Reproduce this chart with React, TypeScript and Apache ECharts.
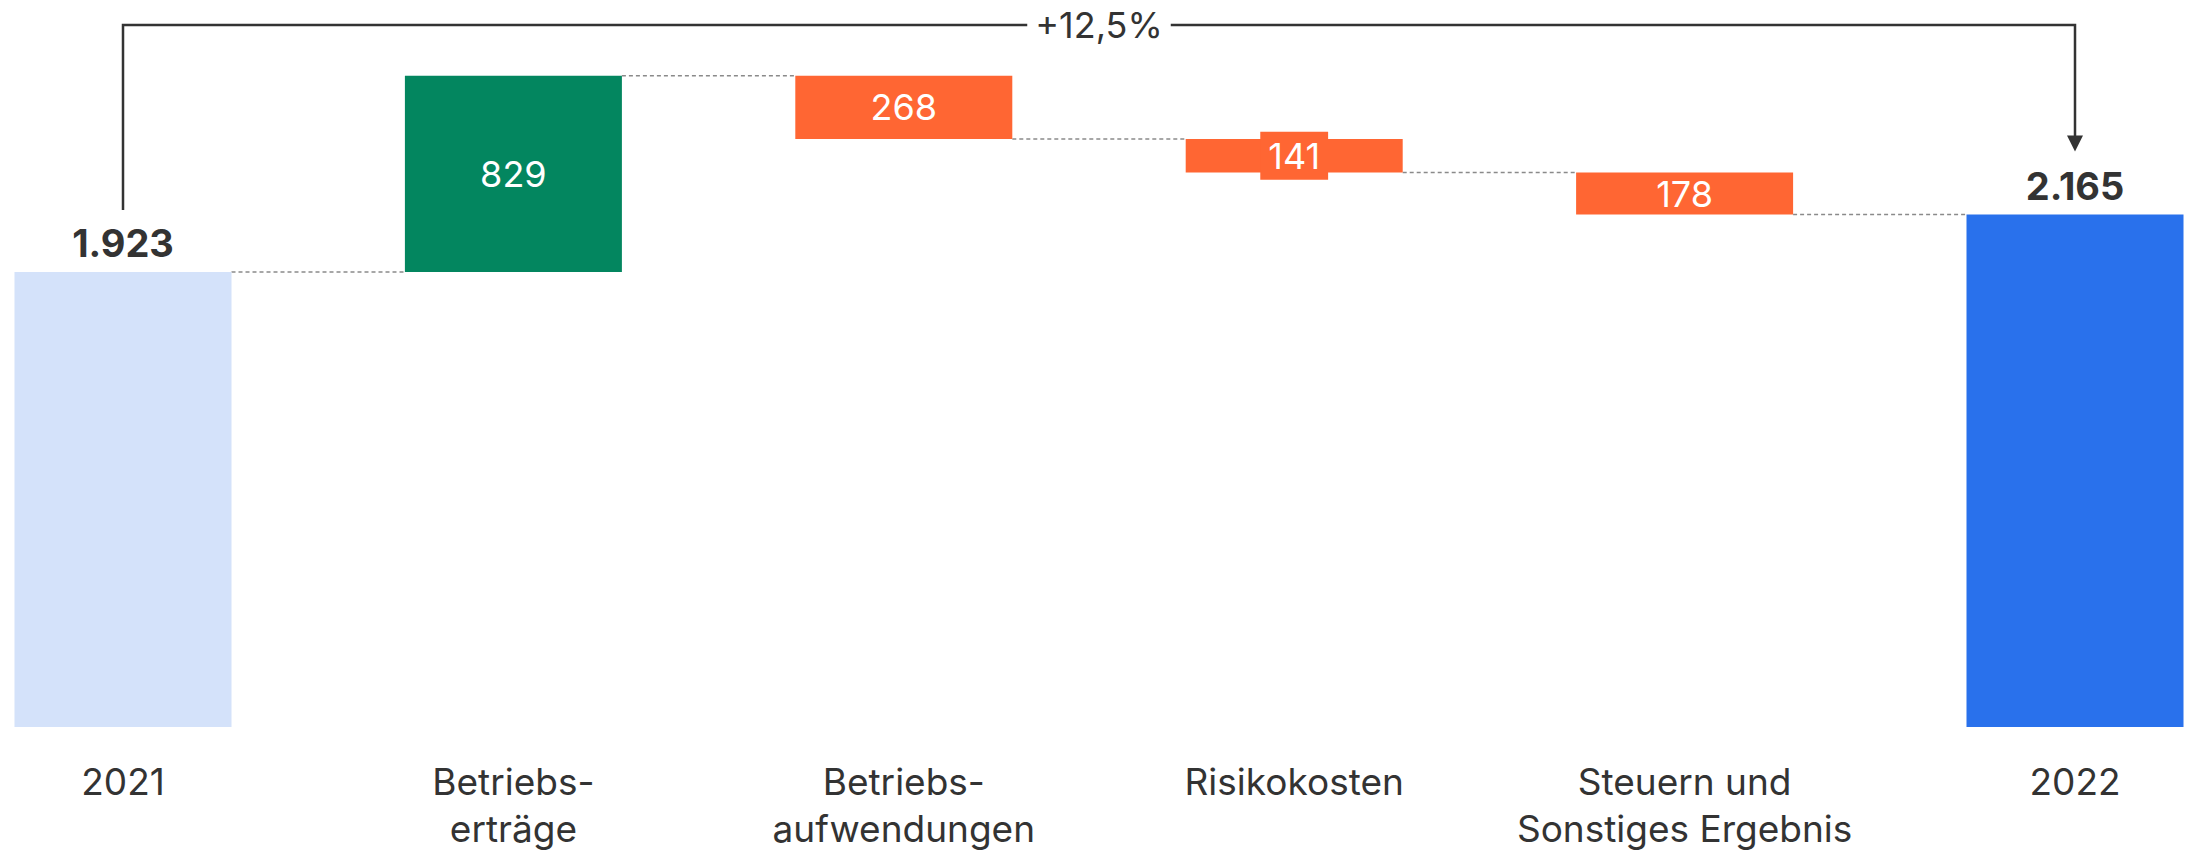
import React, { useEffect, useRef } from "react";
import * as echarts from "echarts";

const categories = [
  "2021",
  "Betriebs-\nerträge",
  "Betriebs-\naufwendungen",
  "Risikokosten",
  "Steuern und\nSonstiges Ergebnis",
  "2022",
];
const startTotal = 1923;
const deltas = [829, -268, -141, -178];
const endTotal = 2165;
const changeLabel = "+12,5%";

const colorStart = "#D4E2FA";
const colorUp = "#03865F";
const colorDown = "#FF6633";
const colorEnd = "#2971EC";
const textDark = "#333333";
const FONT = "Inter";

const fmt = (v: number) =>
  Math.abs(v)
    .toString()
    .replace(/\B(?=(\d{3})+(?!\d))/g, ".");

export default function App() {
  const ref = useRef<HTMLDivElement>(null);

  useEffect(() => {
    if (!ref.current) return;
    const chart = echarts.init(ref.current, undefined, { renderer: "svg" });

    const totalLabel = (v: number) => ({
      show: true,
      position: "top",
      distance: 10,
      color: textDark,
      fontWeight: "bold",
      fontSize: 38,
      fontFamily: FONT,
      formatter: fmt(v),
    });

    const base: number[] = [0];
    const vis: any[] = [];
    const connectors: number[][] = [];
    let running = startTotal;
    connectors.push([0, running]);
    vis.push({ value: startTotal, itemStyle: { color: colorStart }, label: totalLabel(startTotal) });
    deltas.forEach((d, i) => {
      const next = running + d;
      base.push(Math.min(running, next));
      const smallBox = Math.abs(d) < 150;
      vis.push({
        value: Math.abs(d),
        itemStyle: { color: d >= 0 ? colorUp : colorDown },
        label: {
          show: true,
          position: "inside",
          color: "#ffffff",
          fontSize: 36,
          fontFamily: FONT,
          formatter: fmt(d),
          backgroundColor: smallBox ? colorDown : "transparent",
          padding: smallBox ? [6, 8] : 0,
        },
      });
      running = next;
      connectors.push([i + 1, running]);
    });
    base.push(0);
    vis.push({ value: endTotal, itemStyle: { color: colorEnd }, label: totalLabel(endTotal) });

    const barWidth = 217;

    chart.setOption({
      animation: false,
      backgroundColor: "#ffffff",
      grid: { left: 123, right: 111, top: 17, bottom: 126, outerBoundsMode: "none", containLabel: false },
      xAxis: {
        type: "category",
        data: categories,
        boundaryGap: false,
        axisLine: { show: false },
        axisTick: { show: false },
        axisLabel: {
          color: textDark,
          fontSize: 37,
          fontFamily: FONT,
          lineHeight: 47,
          margin: 31,
          interval: 0,
        },
      },
      yAxis: { type: "value", min: 0, max: 3000, show: false, splitLine: { show: false } },
      series: [
        { type: "bar", stack: "wf", data: base, barWidth, clip: false, itemStyle: { color: "transparent" }, silent: true },
        { type: "bar", stack: "wf", data: vis, barWidth, clip: false },
        {
          type: "custom",
          clip: false,
          data: connectors,
          encode: { x: 0, y: 1 },
          z: 1,
          renderItem: (params: any, api: any) => {
            const i = api.value(0);
            const level = api.value(1);
            const p1 = api.coord([i, level]);
            const p2 = api.coord([i + 1, level]);
            return {
              type: "line",
              shape: { x1: p1[0] + barWidth / 2, y1: p1[1], x2: p2[0] - barWidth / 2, y2: p2[1] },
              style: { stroke: "#8a8a8a", lineWidth: 1.5, lineDash: [4, 3] },
            };
          },
        },
      ],
    });

    const pStart = chart.convertToPixel({ xAxisIndex: 0, yAxisIndex: 0 }, [0, startTotal]) as number[];
    const pEnd = chart.convertToPixel({ xAxisIndex: 0, yAxisIndex: 0 }, [5, endTotal]) as number[];
    const topY = 25;
    const leftBottom = pStart[1] - 62;
    const tipY = pEnd[1] - 63;
    const midX = (pStart[0] + pEnd[0]) / 2;
    const stroke = { stroke: "#333333", lineWidth: 2.5 };
    chart.setOption({
      graphic: [
        {
          type: "polyline",
          shape: { points: [[pStart[0], leftBottom], [pStart[0], topY], [pEnd[0], topY], [pEnd[0], tipY - 14]] },
          style: { ...stroke, fill: "none" },
        },
        {
          type: "polygon",
          shape: { points: [[pEnd[0] - 8, tipY - 16], [pEnd[0] + 8, tipY - 16], [pEnd[0], tipY]] },
          style: { fill: "#333333" },
        },
        {
          type: "text",
          x: midX,
          y: topY,
          style: {
            text: changeLabel,
            fontSize: 36,
            fontFamily: FONT,
            fill: textDark,
            align: "center",
            verticalAlign: "middle",
            backgroundColor: "#ffffff",
            padding: [0, 8],
          },
        },
      ],
    });

    return () => chart.dispose();
  }, []);

  return <div ref={ref} style={{ position: "fixed", left: 0, top: 0, width: 2186, height: 853 }} />;
}
